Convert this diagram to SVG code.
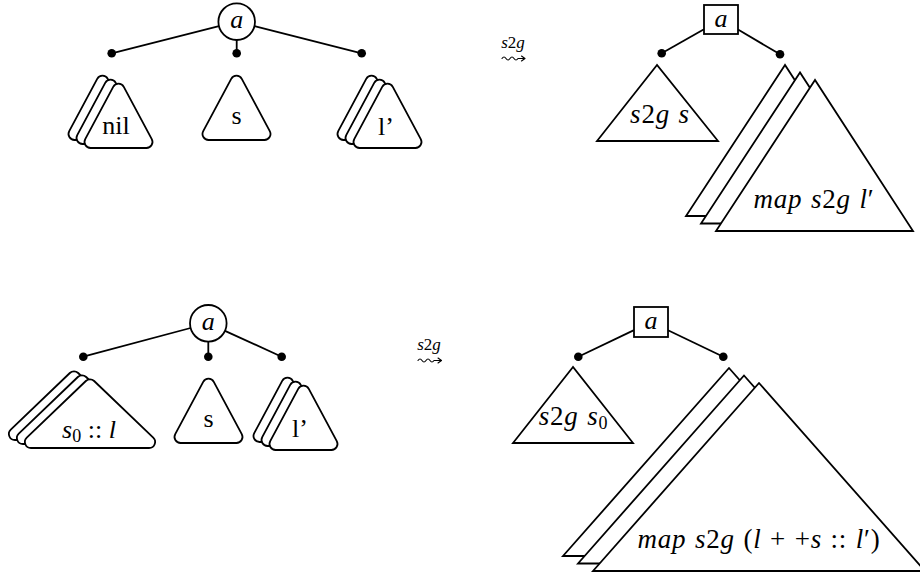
<svg xmlns="http://www.w3.org/2000/svg" xmlns:xlink="http://www.w3.org/1999/xlink" width="920" height="578" viewBox="0 0 920 578">
<style>
  .sh { fill: #fff; stroke: #000; stroke-width: 1.8; stroke-linejoin: miter; }
  .ln { fill: none; stroke: #000; stroke-width: 1.8; }
  .dot { fill: #000; }
  .t { font-family: 'Liberation Serif', 'Times New Roman', serif; font-size: 26px; fill: #000; text-anchor: middle; }
  .m { font-size: 27px; letter-spacing: 0.8px; word-spacing: 1px; }
  .i { font-style: italic; }
  .u { font-style: normal; }
  .lab { font-family: 'Liberation Serif', 'Times New Roman', serif; font-size: 17px; fill: #000; text-anchor: middle; }
  .sq { fill: none; stroke: #000; stroke-width: 1.1; stroke-linecap: round; stroke-linejoin: round; }
</style>
<defs>
  <path id="rtri" d="M -5.29,9.88 L -33.27,62.17 A 6 6 0 0 0 -27.98,71 L 27.98,71 A 6 6 0 0 0 33.27,62.17 L 5.29,9.88 A 6 6 0 0 0 -5.29,9.88 Z"/>
  <path id="rtriw" d="M -4.15,3.98 L -63.23,60.66 A 6 6 0 0 0 -59.07,71 L 59.07,71 A 6 6 0 0 0 63.23,60.66 L 4.15,3.98 A 6 6 0 0 0 -4.15,3.98 Z"/>
</defs>

<g id="connectors">
  <line class="ln" x1="218.95" y1="26.19" x2="111.7" y2="53.3"/>
  <line class="ln" x1="236.7" y1="40" x2="236.7" y2="53.3"/>
  <line class="ln" x1="254.45" y1="26.19" x2="361.7" y2="53.3"/>
  <line class="ln" x1="704" y1="29.2" x2="661.7" y2="53.3"/>
  <line class="ln" x1="738" y1="29.5" x2="780" y2="54.3"/>
  <line class="ln" x1="190.6" y1="328" x2="83.3" y2="356.7"/>
  <line class="ln" x1="208.3" y1="341.6" x2="208.3" y2="356.7"/>
  <line class="ln" x1="225" y1="330.9" x2="281.7" y2="356.7"/>
  <line class="ln" x1="634" y1="330.1" x2="578.3" y2="356.7"/>
  <line class="ln" x1="668" y1="330.2" x2="723.3" y2="356.7"/>
  <circle class="dot" cx="111.7" cy="53.3" r="4.3"/>
  <circle class="dot" cx="236.7" cy="53.3" r="4.3"/>
  <circle class="dot" cx="361.7" cy="53.3" r="4.3"/>
  <circle class="dot" cx="661.7" cy="53.3" r="4.3"/>
  <circle class="dot" cx="780" cy="54.3" r="4.3"/>
  <circle class="dot" cx="83.3" cy="356.7" r="4.3"/>
  <circle class="dot" cx="208.3" cy="356.7" r="4.3"/>
  <circle class="dot" cx="281.7" cy="356.7" r="4.3"/>
  <circle class="dot" cx="578.3" cy="356.7" r="4.3"/>
  <circle class="dot" cx="723.3" cy="356.7" r="4.3"/>
</g>

<g id="node-a-top">
  <circle class="sh" cx="236.7" cy="21.7" r="18.3"/>
  <text class="t i" x="236.7" y="28">a</text>
</g>
<g id="node-nil">
  <use xlink:href="#rtri" class="sh" transform="translate(102.5,69)"/>
  <use xlink:href="#rtri" class="sh" transform="translate(110.5,73)"/>
  <use xlink:href="#rtri" class="sh" transform="translate(118.5,77)"/>
  <text class="t" x="116" y="134">nil</text>
</g>
<g id="node-s-top">
  <use xlink:href="#rtri" class="sh" transform="translate(236.5,69)"/>
  <text class="t" x="236.5" y="123.5">s</text>
</g>
<g id="node-lp-top">
  <use xlink:href="#rtri" class="sh" transform="translate(371.5,69)"/>
  <use xlink:href="#rtri" class="sh" transform="translate(379.5,73)"/>
  <use xlink:href="#rtri" class="sh" transform="translate(387.5,77)"/>
  <text class="t" x="386" y="135">l’</text>
</g>

<g id="arrow-top">
  <text class="lab" x="513" y="48"><tspan class="i">s</tspan>2<tspan class="i">g</tspan></text>
  <path class="sq" d="M502,58.5 Q504,55.5 506,58.5 T510,58.5 T514,58.5 T518,58.5 L525,58.5 M521.5,56 L525,58.5 L521.5,61"/>
</g>

<g id="node-a-sq-top">
  <rect class="sh" x="704" y="5" width="34" height="29"/>
  <text class="t i" x="721" y="27">a</text>
</g>
<g id="node-s2g-s">
  <polygon class="sh" points="657,65 597,141 718,141"/>
  <text class="t m" x="660" y="123"><tspan class="i">s</tspan>2<tspan class="i">g s</tspan></text>
</g>
<g id="node-map-top">
  <polygon class="sh" points="785,65 686,216 883,216"/>
  <polygon class="sh" points="800,72.5 701,223.5 898,223.5"/>
  <polygon class="sh" points="815,80 716,231 913,231"/>
  <text class="t i m" x="814" y="208">map s<tspan class="u">2</tspan>g l<tspan class="u">′</tspan></text>
</g>

<g id="node-a-bot">
  <circle class="sh" cx="208.3" cy="323.3" r="18.3"/>
  <text class="t i" x="208.3" y="329.5">a</text>
</g>
<g id="node-s0l">
  <use xlink:href="#rtriw" class="sh" transform="translate(74,369)"/>
  <use xlink:href="#rtriw" class="sh" transform="translate(82,373)"/>
  <use xlink:href="#rtriw" class="sh" transform="translate(90,377)"/>
  <text class="t" x="89" y="438"><tspan class="i">s</tspan><tspan font-size="18" dy="4">0</tspan><tspan dy="-4"> :: </tspan><tspan class="i">l</tspan></text>
</g>
<g id="node-s-bot">
  <use xlink:href="#rtri" class="sh" transform="translate(208.5,372)"/>
  <text class="t" x="208.5" y="426.7">s</text>
</g>
<g id="node-lp-bot">
  <use xlink:href="#rtri" class="sh" transform="translate(287.5,371)"/>
  <use xlink:href="#rtri" class="sh" transform="translate(295.5,375)"/>
  <use xlink:href="#rtri" class="sh" transform="translate(303.5,379)"/>
  <text class="t" x="300" y="437">l’</text>
</g>

<g id="arrow-bot">
  <text class="lab" x="429" y="350"><tspan class="i">s</tspan>2<tspan class="i">g</tspan></text>
  <path class="sq" d="M418,360.5 Q420,357.5 422,360.5 T426,360.5 T430,360.5 T434,360.5 L441.5,360.5 M438,358 L441.5,360.5 L438,363"/>
</g>

<g id="node-a-sq-bot">
  <rect class="sh" x="634" y="307" width="34" height="30"/>
  <text class="t i" x="651" y="328.5">a</text>
</g>
<g id="node-s2g-s0">
  <polygon class="sh" points="573,367 513,443 633,443"/>
  <text class="t m" x="573.5" y="425"><tspan class="i">s</tspan>2<tspan class="i">g s</tspan><tspan font-size="18" dy="4">0</tspan></text>
</g>
<g id="node-map-bot">
  <polygon class="sh" points="729,368 563,556 895,556"/>
  <polygon class="sh" points="744,375.5 578,563.5 910,563.5"/>
  <polygon class="sh" points="759,383 593,571 925,571"/>
  <text class="t m" x="759" y="548"><tspan class="i">map s</tspan>2<tspan class="i">g </tspan>(<tspan class="i">l</tspan> + +<tspan class="i">s</tspan> :: <tspan class="i">l</tspan>′)</text>
</g>
</svg>
